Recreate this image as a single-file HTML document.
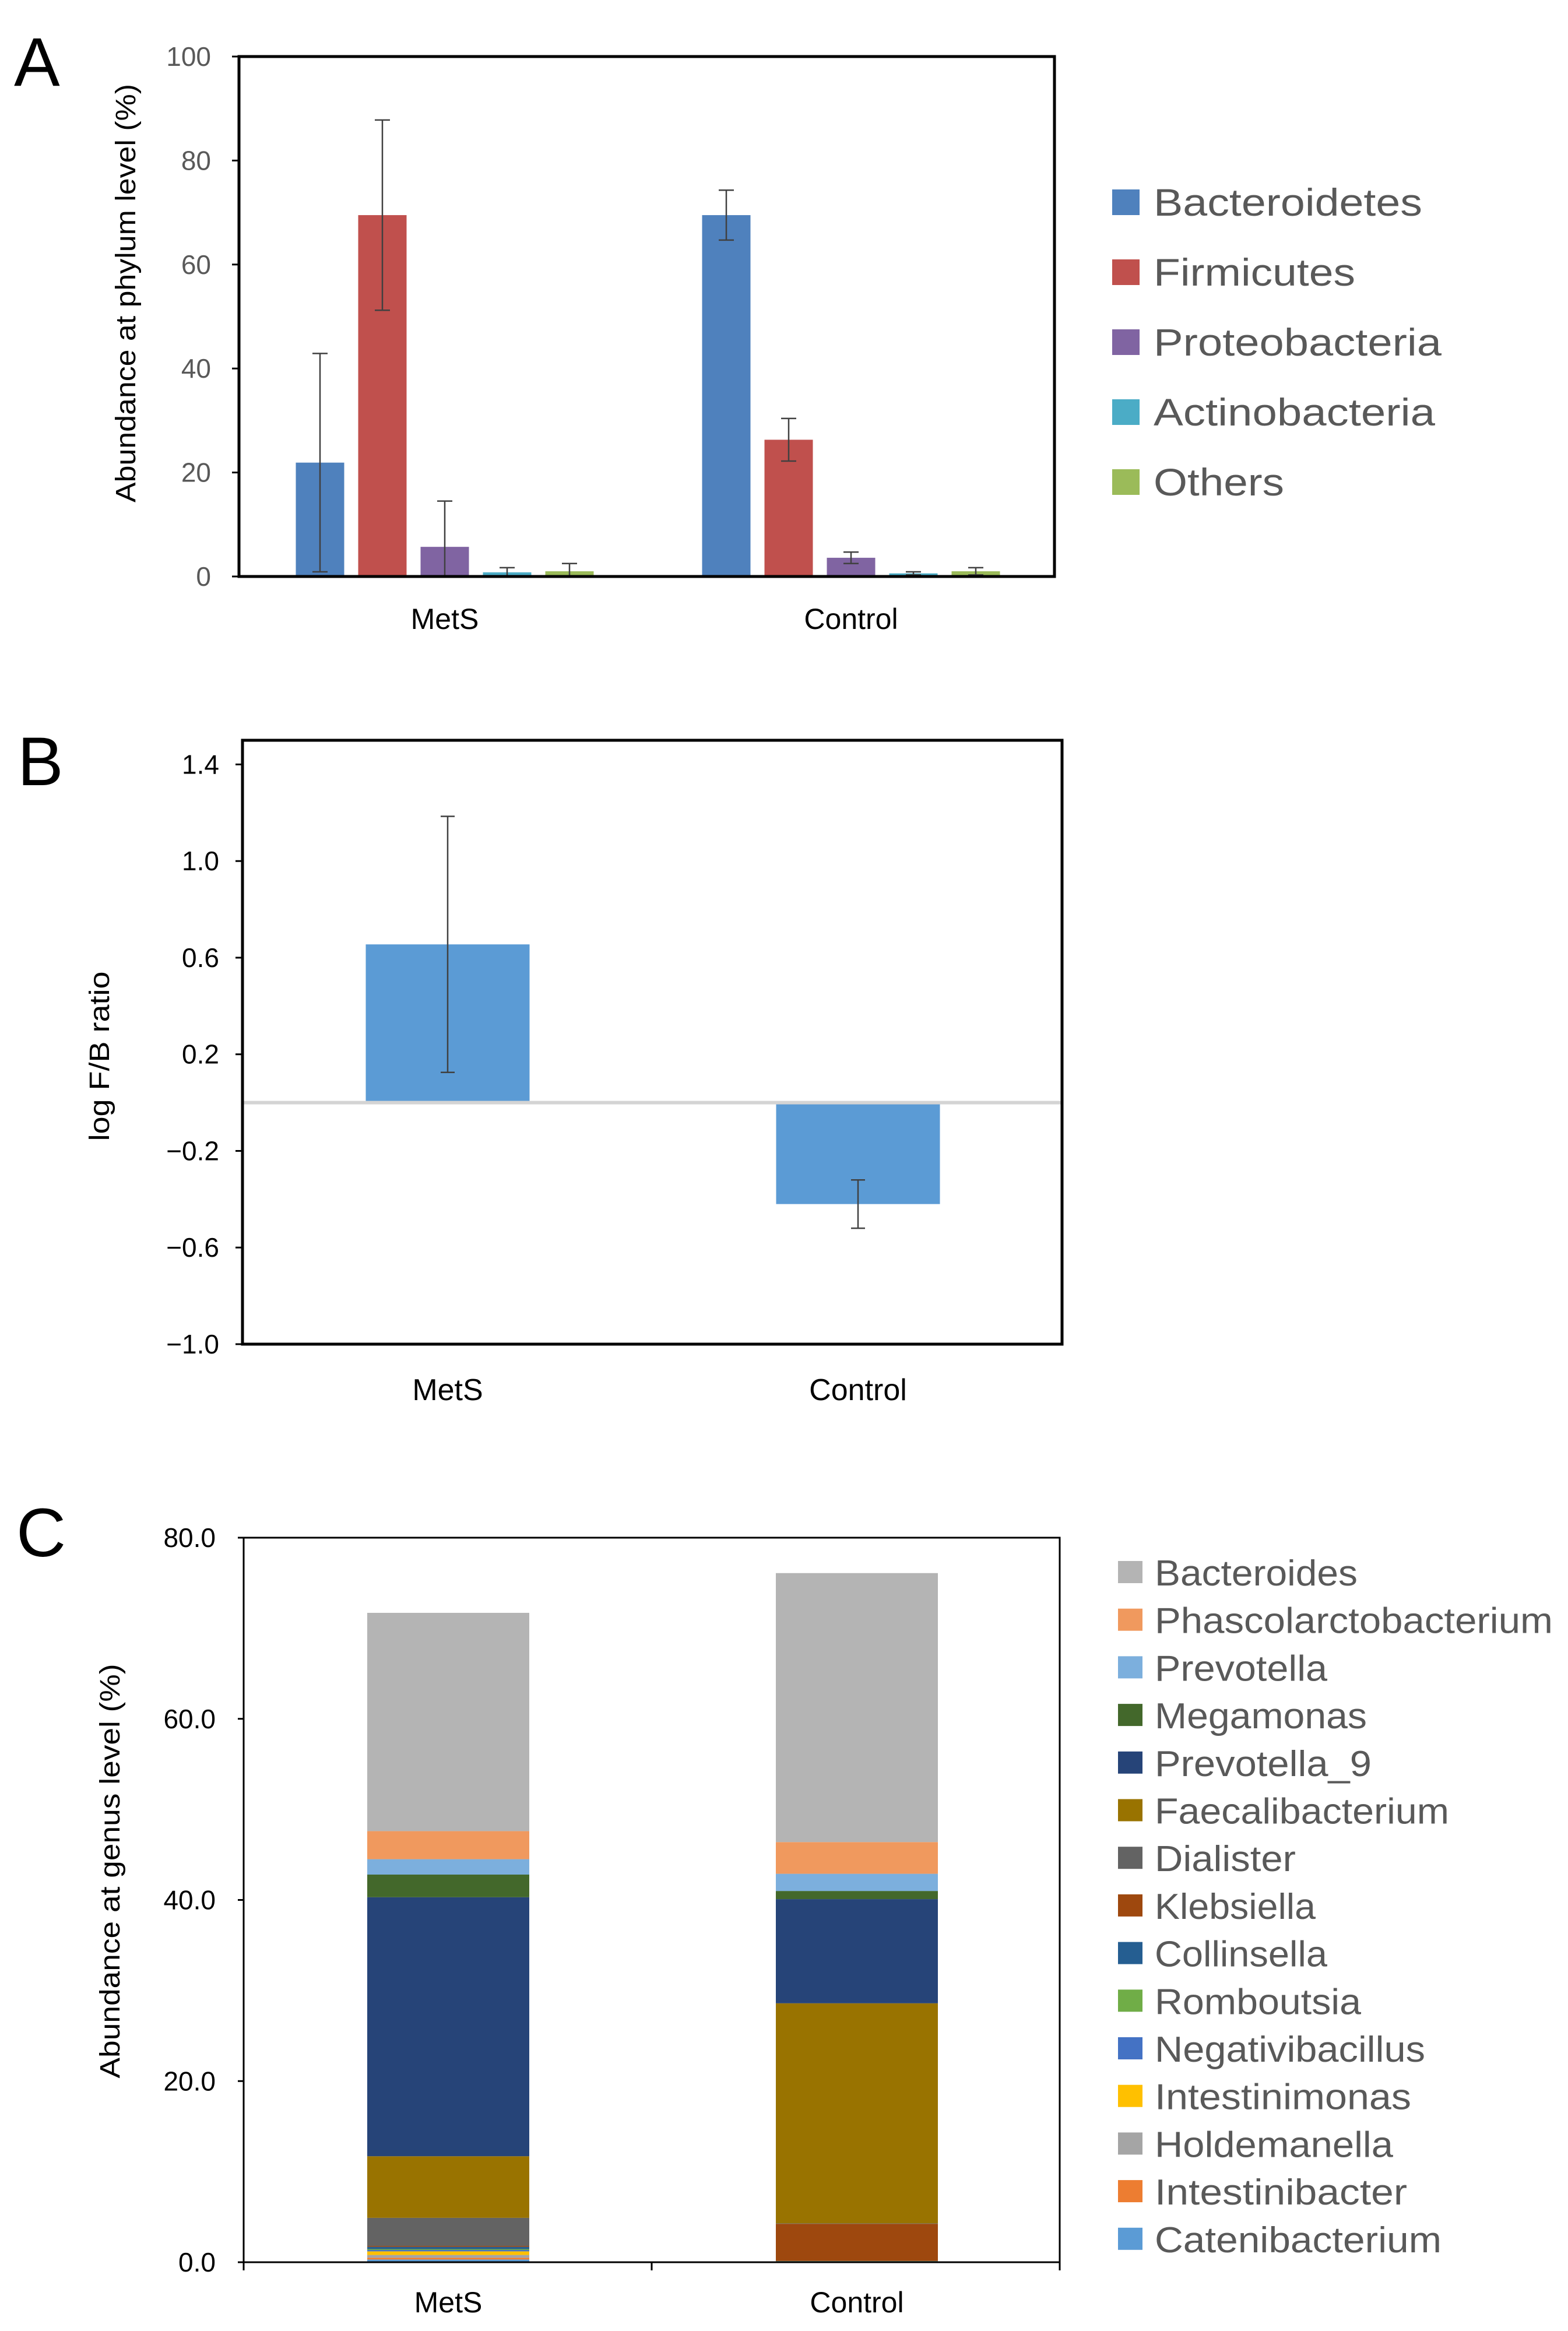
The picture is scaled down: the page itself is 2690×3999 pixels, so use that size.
<!DOCTYPE html>
<html><head><meta charset="utf-8"><style>
html,body{margin:0;padding:0;background:#fff;}
svg{display:block;}
text{font-family:"Liberation Sans",sans-serif;}
</style></head><body>
<svg id="fig" width="2690" height="3999" viewBox="0 0 2690 3999" xmlns="http://www.w3.org/2000/svg">
<rect x="0" y="0" width="2690" height="3999" fill="#fff"/>
<text x="24" y="147" font-size="118" fill="#000">A</text>
<text x="30" y="1347" font-size="118" fill="#000">B</text>
<text x="28" y="2670" font-size="118" fill="#000">C</text>
<g id="gA"></g>
<g id="gB"></g>
<g id="gC"></g>
</svg>
<script>
// ---- Panel A data ----
const groupsA = ["MetS", "Control"];
const phyla = ["Bacteroidetes", "Firmicutes", "Proteobacteria", "Actinobacteria", "Others"];
const phylaColors = ["#4f81bd", "#c0504d", "#8064a2", "#4bacc6", "#9bbb59"];
const metsA = [21.9, 69.5, 5.7, 0.8, 1.0];
const metsAErr = [21, 18.3, 8.8, 0.9, 1.5];
const ctrlA = [69.5, 26.3, 3.6, 0.6, 1.0];
const ctrlAErr = [4.8, 4.1, 1.1, 0.3, 0.7];
const ticksA = [0, 20, 40, 60, 80, 100];
const legendAWidths = [461, 346, 494, 483, 224];

// ---- Panel B data ----
const groupsB = ["MetS", "Control"];
const ratioB = [0.655, -0.42];
const ratioBErr = [0.53, 0.1];
const ticksB = [1.4, 1.0, 0.6, 0.2, -0.2, -0.6, -1.0];
const tickLabelsB = ["1.4", "1.0", "0.6", "0.2", "\u22120.2", "\u22120.6", "\u22121.0"];

// ---- Panel C data (bottom to top) ----
const groupsC = ["MetS", "Control"];
const genera = ["Catenibacterium","Intestinibacter","Holdemanella","Intestinimonas","Negativibacillus","Romboutsia","Collinsella","Klebsiella","Dialister","Faecalibacterium","Prevotella_9","Megamonas","Prevotella","Phascolarctobacterium","Bacteroides"];
const generaColors = ["#5b9bd5","#ed7d31","#a5a5a5","#ffc000","#4472c4","#70ad47","#255e91","#9e480e","#636363","#997300","#264478","#43682b","#7cafdd","#f0995e","#b4b4b4"];
const metsC = [0.3, 0.2, 0.3, 0.4, 0.15, 0.1, 0.25, 0.1, 3.1, 6.8, 28.6, 2.5, 1.7, 3.1, 24.1];
const ctrlC = [0.02, 0.02, 0.02, 0.02, 0.02, 0.02, 0.02, 4.1, 0.05, 24.3, 11.5, 0.9, 1.9, 3.5, 29.7];
const ticksC = [0, 20, 40, 60, 80];
const legendCWidths = [348, 683, 296, 364, 372, 505, 242, 276, 296, 354, 464, 440, 409, 433, 492];

const NS = "http://www.w3.org/2000/svg";
function mk(parent, tag, attrs, txt) {
  const e = document.createElementNS(NS, tag);
  for (const k in attrs) e.setAttribute(k, attrs[k]);
  if (txt !== undefined) e.textContent = txt;
  parent.appendChild(e);
  return e;
}
const tickColor = "#595959";

// ================= Panel A =================
(function () {
  const g = document.getElementById("gA");
  const L = 410, R = 1809, T = 97, B = 989;
  const y = v => B - (v - 0) / 100 * (B - T);
  const groupCenter = [763, 1460];
  const barW = 83, step = 107;
  const xBar = (gi, si) => groupCenter[gi] + (si - 2) * step - barW / 2;
  ticksA.forEach(t => {
    const tl = mk(g, "line", {x1: L - 12, x2: L, y1: y(t), y2: y(t), stroke: "#000", "stroke-width": 3});
    
    
    const tx = mk(g, "text", {x: 362, y: y(t) + 16, "font-size": 46, fill: tickColor, "text-anchor": "end"}, String(t));
    
    
  });
  const data = [metsA, ctrlA], errs = [metsAErr, ctrlAErr];
  data.forEach((vals, gi) => {
    vals.forEach((v, si) => {
      const x = xBar(gi, si);
      const r = mk(g, "rect", {x: x, y: y(v), width: barW, height: y(0) - y(v), fill: phylaColors[si]});
      
      
      const cx = x + barW / 2, e = errs[gi][si];
      const lo = Math.max(0, v - e), hi = v + e;
      const el = mk(g, "path", {d: `M${cx},${y(lo)}V${y(hi)}M${cx - 13},${y(hi)}H${cx + 13}M${cx - 13},${y(lo)}H${cx + 13}`, stroke: "#404040", "stroke-width": 2.5, fill: "none"});
      
      
    });
    const lab = mk(g, "text", {x: groupCenter[gi], y: 1079, "font-size": 50, fill: "#000", "text-anchor": "middle"}, groupsA[gi]);
    
    
  });
  const box = mk(g, "rect", {x: L, y: T, width: R - L, height: B - T, fill: "none", stroke: "#000", "stroke-width": 5});
  
  
  const yt = mk(g, "text", {x: 0, y: 0, "font-size": 48, fill: "#000", "text-anchor": "middle", transform: "translate(232,503) rotate(-90)", textLength: 718, lengthAdjust: "spacingAndGlyphs"}, "Abundance at phylum level  (%)");
  
  
  phyla.forEach((p, i) => {
    const cy = 347 + i * 120;
    const sq = mk(g, "rect", {x: 1908, y: cy - 22, width: 47, height: 44, fill: phylaColors[i]});
    
    
    const t = mk(g, "text", {x: 1979, y: cy + 23, "font-size": 66, fill: tickColor, textLength: legendAWidths[i], lengthAdjust: "spacingAndGlyphs"}, p);
    
    
  });
})();

// ================= Panel B =================
(function () {
  const g = document.getElementById("gB");
  const L = 416, R = 1822, T = 1270, B = 2306;
  const vmin = -1.0, vmax = 1.5;
  const y = v => B - (v - vmin) / (vmax - vmin) * (B - T);
  const centers = [768, 1472];
  const barW = 281;
  ticksB.forEach((t, i) => {
    const tl = mk(g, "line", {x1: L - 12, x2: L, y1: y(t), y2: y(t), stroke: "#000", "stroke-width": 3});
    
    
    const tx = mk(g, "text", {x: 376, y: y(t) + 16, "font-size": 46, fill: "#000", "text-anchor": "end"}, tickLabelsB[i]);
    
    
  });
  ratioB.forEach((v, i) => {
    const x = centers[i] - barW / 2;
    const top = Math.min(y(v), y(0)), h = Math.abs(y(v) - y(0));
    const r = mk(g, "rect", {x: x, y: top, width: barW, height: h, fill: "#5b9bd5"});
    
    
  });
  const z = mk(g, "line", {x1: L, x2: R, y1: y(0), y2: y(0), stroke: "#d4d4d4", "stroke-width": 6});
  
  
  ratioB.forEach((v, i) => {
    const cx = centers[i], e = ratioBErr[i];
    const lo = v - e, hi = v + e;
    const el = mk(g, "path", {d: `M${cx},${y(lo)}V${y(hi)}M${cx - 12},${y(hi)}H${cx + 12}M${cx - 12},${y(lo)}H${cx + 12}`, stroke: "#404040", "stroke-width": 2.5, fill: "none"});
    
    
    const lab = mk(g, "text", {x: cx, y: 2402, "font-size": 52, fill: "#000", "text-anchor": "middle"}, groupsB[i]);
    
    
  });
  const box = mk(g, "rect", {x: L, y: T, width: R - L, height: B - T, fill: "none", stroke: "#000", "stroke-width": 5});
  
  
  const yt = mk(g, "text", {x: 0, y: 0, "font-size": 48, fill: "#000", "text-anchor": "middle", transform: "translate(187,1812) rotate(-90)", textLength: 291, lengthAdjust: "spacingAndGlyphs"}, "log F/B ratio");
  
  
})();

// ================= Panel C =================
(function () {
  const g = document.getElementById("gC");
  const L = 418, R = 1818, T = 2638, B = 3881;
  const y = v => B - v / 80 * (B - T);
  const centers = [769, 1470];
  const barW = 278;
  ticksC.forEach(t => {
    const tl = mk(g, "line", {x1: L - 10, x2: L, y1: y(t), y2: y(t), stroke: "#000", "stroke-width": 3});
    
    
    const tx = mk(g, "text", {x: 370, y: y(t) + 16, "font-size": 46, fill: "#000", "text-anchor": "end"}, t.toFixed(1));
    
    
  });
  [metsC, ctrlC].forEach((vals, gi) => {
    let acc = 0;
    vals.forEach((v, si) => {
      const r = mk(g, "rect", {x: centers[gi] - barW / 2, y: y(acc + v), width: barW, height: y(acc) - y(acc + v), fill: generaColors[si]});
      
      
      acc += v;
    });
    const lab = mk(g, "text", {x: centers[gi], y: 3967, "font-size": 50, fill: "#000", "text-anchor": "middle"}, groupsC[gi]);
    
    
  });
  const box = mk(g, "rect", {x: L, y: T, width: R - L, height: B - T, fill: "none", stroke: "#000", "stroke-width": 3});
  
  
  [L, (L + R) / 2, R].forEach(x => {
    const tk = mk(g, "line", {x1: x, x2: x, y1: B, y2: B + 14, stroke: "#000", "stroke-width": 3});
    
    
  });
  const yt = mk(g, "text", {x: 0, y: 0, "font-size": 48, fill: "#000", "text-anchor": "middle", transform: "translate(205,3210) rotate(-90)", textLength: 711, lengthAdjust: "spacingAndGlyphs"}, "Abundance at genus level (%)");
  
  
  for (let i = 0; i < genera.length; i++) {
    const si = genera.length - 1 - i;
    const cy = 2697 + i * 81.7;
    const sq = mk(g, "rect", {x: 1918, y: cy - 19, width: 42, height: 38, fill: generaColors[si]});
    
    
    const t = mk(g, "text", {x: 1981, y: cy + 23, "font-size": 62, fill: tickColor, textLength: legendCWidths[i], lengthAdjust: "spacingAndGlyphs"}, genera[si]);
    
    
  }
})();
</script>
</body></html>
